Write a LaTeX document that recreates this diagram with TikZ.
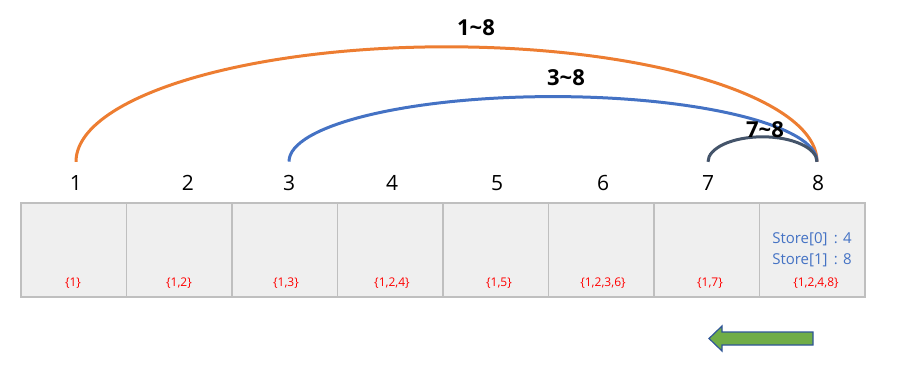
\documentclass[tikz,border=0pt]{standalone}
\usepackage{fontspec}
\setmainfont{Open Sans}
\usepackage{tikz}

\definecolor{arcorange}{HTML}{ED7D31}
\definecolor{arcblue}{HTML}{4472C4}
\definecolor{arcgray}{HTML}{44546A}
\definecolor{cellfill}{HTML}{EFEFEF}
\definecolor{cellline}{HTML}{BFBFBF}
\definecolor{arrowgreen}{HTML}{70AD47}
\definecolor{arrowline}{HTML}{2F5597}

\tikzset{
  cell/.style={draw=cellline,line width=1.2pt,fill=cellfill,minimum width=105.5pt,minimum height=94pt,inner sep=0pt},
  numlbl/.style={font=\fontsize{21}{24}\selectfont,inner sep=1pt},
  rangelbl/.style={font=\fontsize{22}{26}\selectfont\bfseries,inner sep=1pt},
  setlbl/.style={font=\fontsize{12}{14}\selectfont,text=red,inner sep=1pt},
  storelbl/.style={font=\fontsize{15}{21}\selectfont,text=arcblue,align=left,inner sep=1pt}
}

\begin{document}
\begin{tikzpicture}[x=1pt,y=-1pt]
        \useasboundingbox (0,0) rectangle (910,375);
        % cells with their sets
        \foreach \i/\u/\s in {1/73/{\{1\}}, 2/179/{\{1,2\}}, 3/286/{\{1,3\}}, 4/392/{\{1,2,4\}}, 5/499/{\{1,5\}}, 6/603/{\{1,2,3,6\}}, 7/710/{\{1,7\}}, 8/816/{\{1,2,4,8\}}}{
          \node[cell] (c\i) at ({21+105.5*(\i-0.5)},250) {};
          \node[setlbl] (s\i) at (\u,283) {\s};}
        \node[storelbl] (st) at (812,250) {Store[0]\, : 4\\Store[1]\, : 8};
        % indices
        \foreach \i/\t in {1/76, 2/188, 3/289, 4/392, 5/497, 6/603, 7/708, 8/818}
          \node[numlbl] (n\i) at (\t,183) {\i};
        % ranges
        \foreach \a/\r/\h/\c in {n1/370.5/115/arcorange, n3/264/65/arcblue, n7/54.5/25/arcgray}
          \draw[\c,line width=3pt] ([yshift=12.5pt]\a.north) arc[start angle=180,end angle=0,x radius=\r pt,y radius=\h pt];
        \node[rangelbl] (r18) at (476,28) {1\textasciitilde8};
        \node[rangelbl] (r38) at (566,78) {3\textasciitilde8};
        \node[rangelbl] (r78) at (765,130) {7\textasciitilde8};
        % direction
        \draw[arrowline,fill=arrowgreen,line width=1.2pt] (813,332) -- (722,332) -- (722,326) -- (709,338.5) -- (722,351) -- (722,345) -- (813,345) -- cycle;
      \end{tikzpicture}
\end{document}
